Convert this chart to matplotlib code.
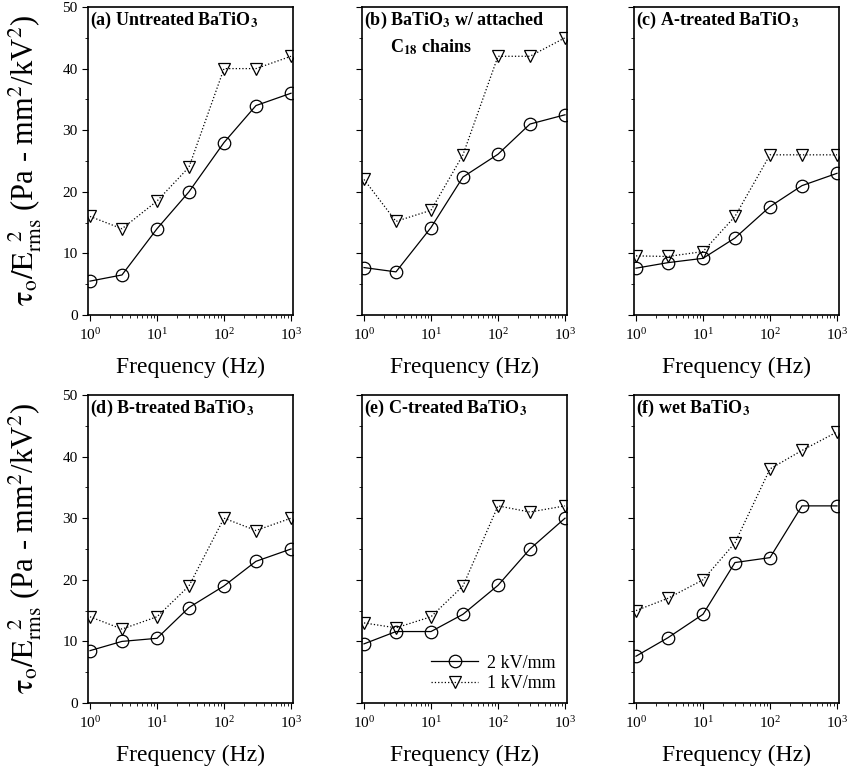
import matplotlib
matplotlib.use("Agg")
import matplotlib.pyplot as plt
from matplotlib.ticker import MultipleLocator, LogLocator, NullFormatter

plt.rcParams["font.family"] = ["Liberation Serif", "DejaVu Serif"]
plt.rcParams["mathtext.fontset"] = "stix"

# ── data ──────────────────────────────────────────────────────────────────
freq = [1, 3, 10, 30, 100, 300, 1000]

titles = [
    r"(a) Untreated BaTiO$_\mathbf{3}$",
    r"(b) BaTiO$_\mathbf{3}$ w/ attached",
    r"(c) A-treated BaTiO$_\mathbf{3}$",
    r"(d) B-treated BaTiO$_\mathbf{3}$",
    r"(e) C-treated BaTiO$_\mathbf{3}$",
    r"(f) wet BaTiO$_\mathbf{3}$",
]

kv2_a = [5.5, 6.5, 14.0, 20.0, 28.0, 34.0, 36.0]
kv1_a = [16.0, 14.0, 18.5, 24.0, 40.0, 40.0, 42.0]
kv2_b = [7.7, 7.0, 14.2, 22.4, 26.1, 31.0, 32.5]
kv1_b = [22.0, 15.2, 17.0, 26.0, 42.0, 42.0, 45.0]
kv2_c = [7.6, 8.5, 9.2, 12.5, 17.6, 21.0, 23.0]
kv1_c = [9.6, 9.5, 10.3, 16.0, 26.0, 26.0, 26.0]
kv2_d = [8.5, 10.0, 10.5, 15.5, 19.0, 23.0, 25.0]
kv1_d = [14.0, 12.0, 14.0, 19.0, 30.0, 28.0, 30.0]
kv2_e = [9.6, 11.6, 11.6, 14.4, 19.1, 25.0, 30.0]
kv1_e = [13.0, 12.2, 14.0, 19.0, 32.0, 31.0, 32.0]
kv2_f = [7.6, 10.6, 14.4, 22.8, 23.6, 32.0, 32.0]
kv1_f = [15.0, 17.0, 20.0, 26.0, 38.0, 41.0, 44.0]

series_2kv = [kv2_a, kv2_b, kv2_c, kv2_d, kv2_e, kv2_f]
series_1kv = [kv1_a, kv1_b, kv1_c, kv1_d, kv1_e, kv1_f]

# ── layout ────────────────────────────────────────────────────────────────
W, H = 847, 770
fig = plt.figure(figsize=(W / 100, H / 100), dpi=100)

lefts = [88, 362, 634]
tops = [7, 395]
aw, ah = 205, 308

ylabel = r"$\mathrm{\tau_o/E_{rms}^{\ \ 2}}$ (Pa - mm$^2$/kV$^2$)"

for i in range(6):
    r, c = divmod(i, 3)
    x0, y0 = lefts[c], tops[r]
    ax = fig.add_axes([x0 / W, 1 - (y0 + ah) / H, aw / W, ah / H])
    ax.plot(freq, series_2kv[i], "-", color="black", lw=0.9,
            marker="o", ms=9, mfc="none", mec="black", mew=0.9, label="2 kV/mm")
    ax.plot(freq, series_1kv[i], ":", color="black", lw=0.9,
            marker="v", ms=8, mfc="none", mec="black", mew=0.9, label="1 kV/mm")
    ax.set_xscale("log")
    ax.set_xlim(10 ** -0.03, 10 ** 3.03)
    ax.set_ylim(0, 50)
    ax.yaxis.set_major_locator(MultipleLocator(10))
    ax.yaxis.set_minor_locator(MultipleLocator(5))
    ax.xaxis.set_major_locator(LogLocator(base=10, numticks=10))
    ax.xaxis.set_minor_locator(LogLocator(base=10, subs=range(2, 10), numticks=10))
    ax.xaxis.set_minor_formatter(NullFormatter())
    ax.tick_params(which="both", direction="out", top=False, right=False, labelsize=11)
    ax.tick_params(axis="x", pad=5)
    ax.tick_params(which="major", length=4)
    ax.tick_params(which="minor", length=2)
    for s in ax.spines.values():
        s.set_linewidth(1.2)
    if c != 0:
        ax.set_yticklabels([])
    else:
        ax.set_ylabel(ylabel, fontsize=22, labelpad=13)
    ax.set_xlabel("Frequency (Hz)", fontsize=17, labelpad=10)

    ax.text(0.01, 0.99, titles[i], transform=ax.transAxes, ha="left", va="top",
            fontsize=13, fontweight="bold")
    if i == 1:
        ax.text(0.135, 0.9, r"C$_\mathbf{18}$ chains", transform=ax.transAxes,
                ha="left", va="top", fontsize=13, fontweight="bold")
    if i == 4:
        ax.legend(loc="lower right", frameon=False, fontsize=13,
                  handlelength=2.6, borderaxespad=0.2, labelspacing=0.2,
                  handletextpad=0.5)

fig.savefig("out.png", dpi=100)
